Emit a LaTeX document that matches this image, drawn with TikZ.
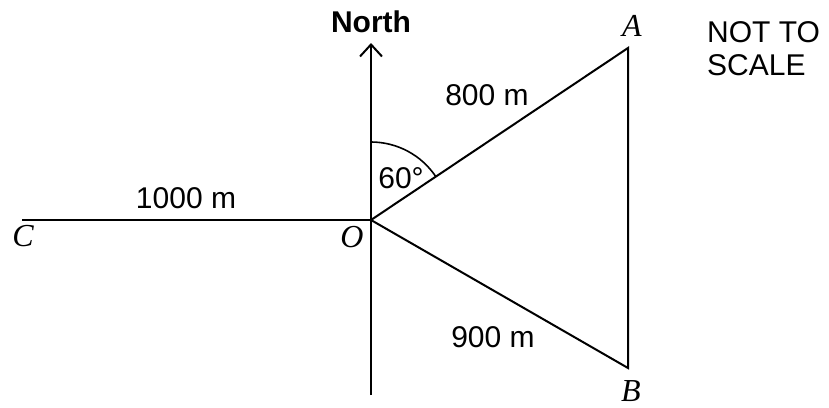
\documentclass[tikz,border=0pt]{standalone}
\usepackage{fontspec}
\setmainfont{Liberation Sans}
\newfontfamily\serifit{Liberation Serif}
\usetikzlibrary{arrows.meta}
\tikzset{
  lbl/.style={inner sep=0pt, font=\fontsize{30}{34}\selectfont},
  pt/.style={inner sep=0pt, font=\fontsize{32}{36}\selectfont\serifit\itshape},
  edge/.style={line width=2pt, line cap=butt, line join=miter},
}
\begin{document}
\begin{tikzpicture}[x=1pt,y=-1pt]
\useasboundingbox (0,0) rectangle (829,407);
\coordinate (O) at (371,220);
\coordinate (A) at (628,48);
\coordinate (B) at (628,368);
\coordinate (C) at (22,220);
\coordinate (Ntop) at (371,43);
\coordinate (Nbot) at (371,395);
\draw[edge] (C) -- (O);
\draw[edge, -{Straight Barb[length=12pt,width=22pt,line width=2pt]}] (Nbot) -- (Ntop);
\draw[edge] (O) -- (A) -- (B) -- cycle;
\draw[line width=1.6pt] ([shift={(0,-78)}]O) arc[start angle=-90, end angle=-33.8, radius=78];
\node[lbl, font=\fontsize{30}{34}\selectfont\bfseries] (north) at (371,22) {North};
\node[lbl] (l800) at (487,95) {800 m};
\node[lbl] (l60) at (401,178) {60°};
\node[lbl] (l900) at (493,337) {900 m};
\node[lbl] (l1000) at (186,198) {1000 m};
\node[lbl, align=left, anchor=base west, font=\fontsize{30}{33}\selectfont] (nts) at (707,75) {NOT TO\\SCALE};
\node[pt] (lA) at (632,26) {A};
\node[pt] (lB) at (631,391) {B};
\node[pt] (lC) at (23,236) {C};
\node[pt] (lO) at (352,237) {O};
\end{tikzpicture}
\end{document}
